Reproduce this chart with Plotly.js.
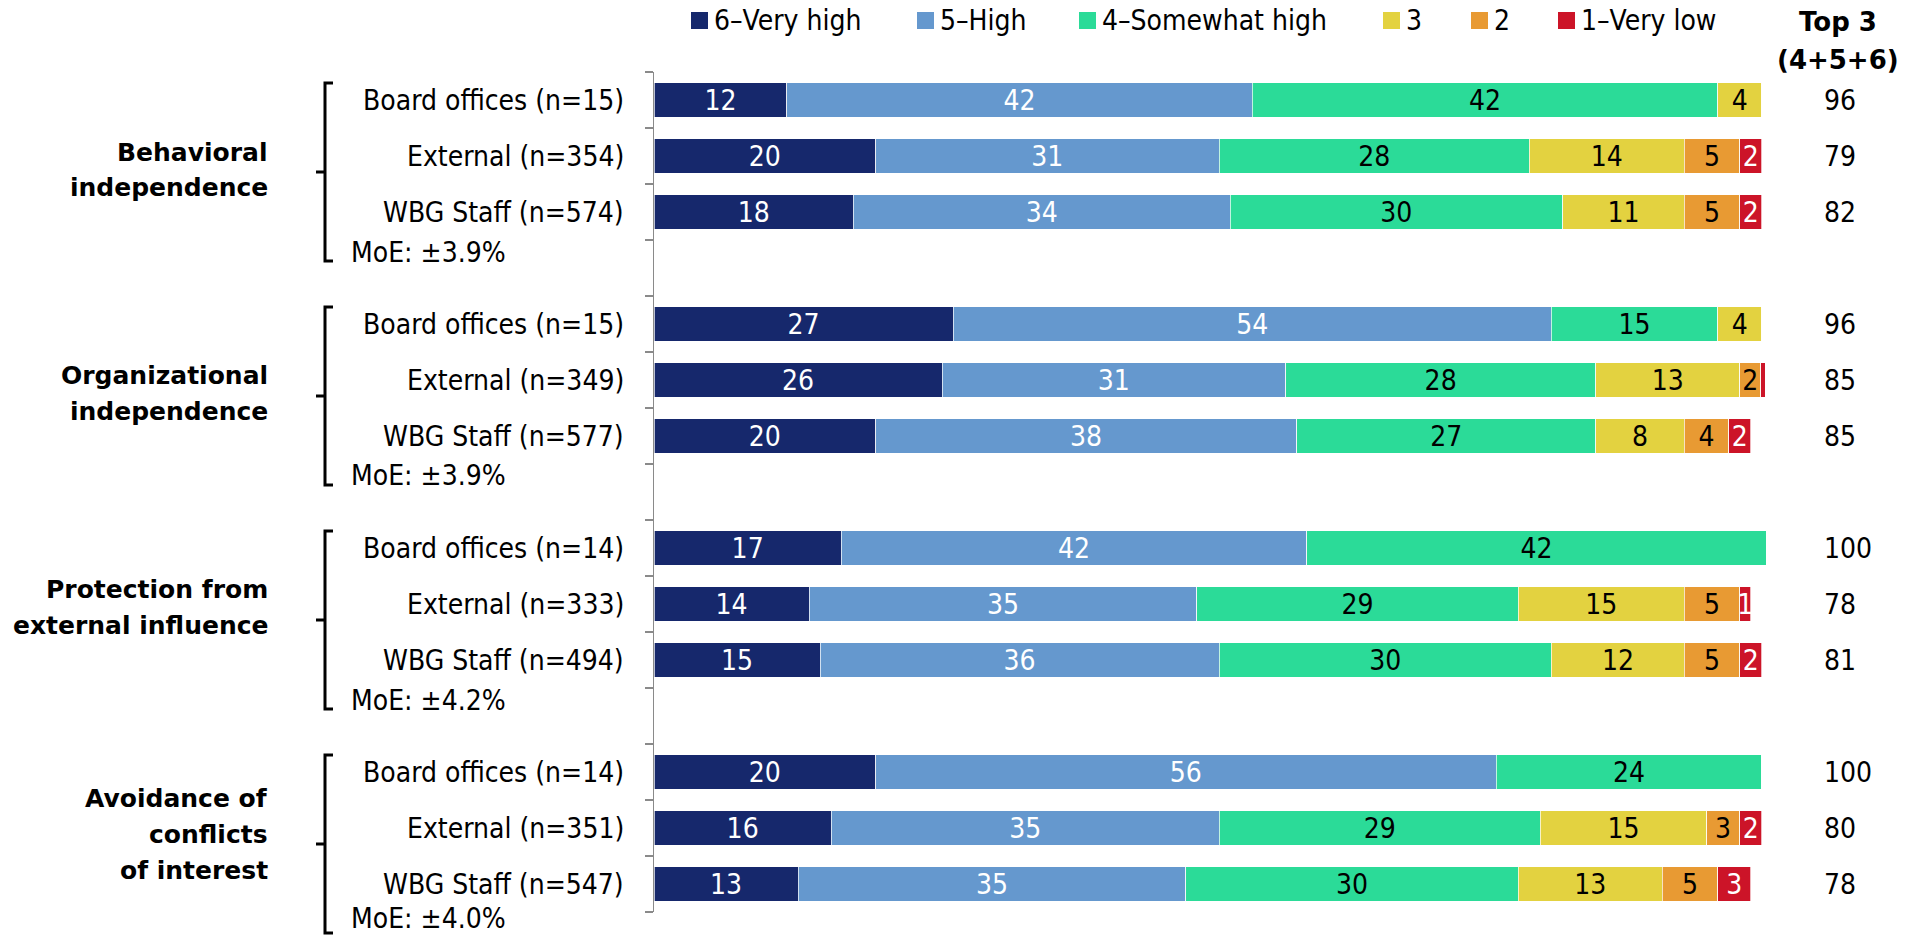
<!DOCTYPE html>
<html><head><meta charset="utf-8">
<script src="https://cdn.plot.ly/plotly-3.0.1.min.js"></script>
<style>html,body{margin:0;padding:0;background:#fff;} #chart{width:1907px;height:938px;}</style>
</head><body><div id="chart"></div>
<script>
// ---- data ----
const levels = ['6–Very high', '5–High', '4–Somewhat high', '3', '2', '1–Very low'];
const levelColors = ['#16286C', '#6598CE', '#2BDB98', '#E3D240', '#E89A33', '#CC1428'];
const levelTextColors = ['#FFFFFF', '#FFFFFF', '#000000', '#000000', '#000000', '#FFFFFF'];
const groups = ['Behavioral\nindependence', 'Organizational\nindependence', 'Protection from\nexternal influence', 'Avoidance of\nconflicts\nof interest'];
const moeLabels = ['MoE: ±3.9%', 'MoE: ±3.9%', 'MoE: ±4.2%', 'MoE: ±4.0%'];
const rowLabels = [
  'Board offices (n=15)', 'External (n=354)', 'WBG Staff (n=574)',
  'Board offices (n=15)', 'External (n=349)', 'WBG Staff (n=577)',
  'Board offices (n=14)', 'External (n=333)', 'WBG Staff (n=494)',
  'Board offices (n=14)', 'External (n=351)', 'WBG Staff (n=547)'
];
const veryHigh     = [12, 20, 18,   27, 26, 20,   16.9, 14, 15,   20, 16, 13];
const high         = [42, 31, 34,   54, 31, 38,   42, 35, 36,     56, 35, 35];
const somewhatHigh = [42, 28, 30,   15, 28, 27,   41.5, 29, 30,   24, 29, 30];
const three        = [4, 14, 11,    4, 13, 8,     0, 15, 12,      0, 15, 13];
const two          = [0, 5, 5,      0, 1.9, 4,    0, 5, 5,        0, 3, 5];
const veryLow      = [0, 2, 2,      0, 0.4, 2,    0, 1, 2,        0, 2, 3];
const top3         = [96, 79, 82,   96, 85, 85,   100, 78, 81,    100, 80, 78];
const top3Header   = ['Top 3', '(4+5+6)'];

const series = [veryHigh, high, somewhatHigh, three, two, veryLow];

// ---- geometry helpers ----
const W = 1907, H = 938;
const M = {l: 654, r: 134, t: 72, b: 26};
const plotW = W - M.l - M.r, plotH = H - M.t - M.b;
const px = x => (x - M.l) / plotW;          // pixel x -> paper x
const py = y => (H - M.b - y) / plotH;       // pixel y -> paper y
const slotPx = plotH / 15;
const slotY = s => M.t + (s + 0.5) * slotPx; // slot -> pixel y
const slotOf = i => Math.floor(i / 3) * 4 + (i % 3);
const slots = rowLabels.map((_, i) => slotOf(i));

const REG = '"DejaVu Sans Condensed", "DejaVu Sans", sans-serif';
const BOLD = '"DejaVu Sans", sans-serif';

const traces = series.map((vals, k) => ({
  type: 'bar', orientation: 'h', name: levels[k],
  x: vals, y: slots, width: 0.61,
  marker: {color: levelColors[k], line: {color: 'rgba(255,255,255,0.7)', width: 1}},
  text: vals.map(v => Math.round(v) >= 1 ? String(Math.round(v)) : ''),
  textposition: 'inside', insidetextanchor: 'middle', textangle: 0,
  constraintext: 'none', cliponaxis: false,
  insidetextfont: {family: REG, size: 28, color: levelTextColors[k]},
  hoverinfo: 'skip', showlegend: false
}));

const annotations = [];
const shapes = [];

// row labels and top-3 values
rowLabels.forEach((lab, i) => {
  annotations.push({xref: 'paper', yref: 'y', x: px(626), y: slots[i], xanchor: 'right', yanchor: 'middle',
    text: lab, showarrow: false, font: {family: REG, size: 28, color: '#000'}});
  annotations.push({xref: 'paper', yref: 'y', x: px(1822), y: slots[i], xanchor: 'left', yanchor: 'middle',
    text: String(top3[i]), showarrow: false, font: {family: REG, size: 28, color: '#000'}});
});

// groups: labels, brackets, MoE
const groupLabelShift = [14, 13, 3, 6];   // px below the middle row
groups.forEach((g, gi) => {
  const board = gi * 4;
  const midPx = slotY(board + 1) + groupLabelShift[gi];
  const lines = g.split('\n');
  lines.forEach((ln, li) => {
    annotations.push({xref: 'paper', yref: 'paper', x: px(270), y: py(midPx + (li - (lines.length - 1) / 2) * 36),
      xanchor: 'right', yanchor: 'middle', text: '<b>' + ln + '</b>', showarrow: false,
      font: {family: BOLD, size: 25, color: '#000'}});
  });
  const moeY = Math.min(slotY(board + 2) + 40, H - 20);
  annotations.push({xref: 'paper', yref: 'paper', x: px(349), y: py(moeY), xanchor: 'left', yanchor: 'middle',
    text: moeLabels[gi], showarrow: false, font: {family: REG, size: 28, color: '#000'}});
  const b0 = slotY(board);
  const top = py(b0 - 17), bot = py(Math.min(b0 + 161, H - 5)), bm = py(b0 + 72);
  shapes.push({type: 'path', xref: 'paper', yref: 'paper',
    path: `M ${px(333)},${top} L ${px(325)},${top} L ${px(325)},${bot} L ${px(333)},${bot} M ${px(325)},${bm} L ${px(316)},${bm}`,
    line: {color: '#000', width: 3}});
});

// custom legend
const legendX = [691, 917, 1079, 1383, 1471, 1558];
levels.forEach((lv, k) => {
  shapes.push({type: 'rect', xref: 'paper', yref: 'paper', x0: px(legendX[k]), x1: px(legendX[k] + 17),
    y0: py(29), y1: py(12), fillcolor: levelColors[k], line: {width: 0}});
  annotations.push({xref: 'paper', yref: 'paper', x: px(legendX[k] + 21), y: py(20), xanchor: 'left', yanchor: 'middle',
    text: lv, showarrow: false, font: {family: REG, size: 28, color: '#000'}});
});
top3Header.forEach((t, i) => {
  annotations.push({xref: 'paper', yref: 'paper', x: px(1838), y: py(i === 0 ? 22 : 60), xanchor: 'center', yanchor: 'middle',
    text: '<b>' + t + '</b>', showarrow: false, font: {family: BOLD, size: 26, color: '#000'}});
});

const tickvals = [];
for (let v = -0.5; v <= 14.5; v += 1) tickvals.push(v);

const layout = {
  width: W, height: H, margin: M,
  paper_bgcolor: '#fff', plot_bgcolor: '#fff',
  barmode: 'stack', showlegend: false,
  xaxis: {range: [0, 101], visible: false, fixedrange: true},
  yaxis: {range: [14.5, -0.5], tickmode: 'array', tickvals: tickvals, ticktext: tickvals.map(() => ''),
    ticks: 'outside', ticklen: 8, tickwidth: 1.5, tickcolor: '#8a8a8a',
    showline: true, linecolor: '#8a8a8a', linewidth: 1.5, showgrid: false, zeroline: false, fixedrange: true},
  annotations: annotations, shapes: shapes
};

Plotly.newPlot('chart', traces, layout, {displayModeBar: false, staticPlot: true});
</script>
</body></html>
